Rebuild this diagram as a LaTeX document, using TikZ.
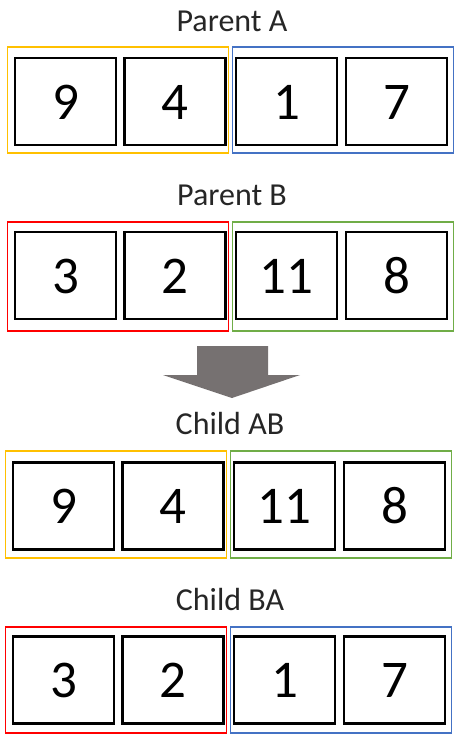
\documentclass[tikz,border=0pt]{standalone}
\usepackage{fontspec}
\setmainfont{Carlito}
\definecolor{ogold}{HTML}{FFC000}
\definecolor{oblue}{HTML}{4472C4}
\definecolor{ored}{HTML}{FF0000}
\definecolor{ogreen}{HTML}{70AD47}
\definecolor{arrowgray}{HTML}{767171}
\tikzset{
  cell/.style={draw=black, line width=2.6pt, minimum width=101pt, minimum height=87pt,
    inner sep=0pt, text height=35pt, text depth=0pt,
    font=\fontsize{53}{53}\selectfont},
  half/.style={draw=#1, line width=1.5pt, minimum width=221pt, inner sep=0pt},
  title/.style={anchor=base, inner sep=0pt, text=black!85, font=\fontsize{32}{32}\selectfont},
}
\begin{document}
\begin{tikzpicture}[x=1pt, y=-1pt]
\useasboundingbox (0,0) rectangle (455,734);

% one chromosome: #1 name, #2 x shift, #3 title baseline, #4 frame top, #5 frame bottom,
% #6 cell centre y, #7 title, #8 #9 left/right frame colours, then four genes
\newcommand{\chromrow}[9]{%
  \node[title] (#1t) at (232+#2,#3) {#7};
  \node[half=#8, minimum height=#5-#4] (#1l) at (118+#2,{(#4+#5)/2}) {};
  \node[half=#9, minimum height=#5-#4] (#1r) at (343+#2,{(#4+#5)/2}) {};
  \def\rowname{#1}\def\rowx{#2}\def\rowy{#6}%
  \genes}
\newcommand{\genes}[4]{%
  \node[cell] (\rowname1) at (65.5+\rowx,\rowy) {#1};
  \node[cell] (\rowname2) at (175+\rowx,\rowy) {#2};
  \node[cell] (\rowname3) at (286.5+\rowx,\rowy) {#3};
  \node[cell] (\rowname4) at (396.5+\rowx,\rowy) {#4};}

\chromrow{pa}{0}{31}{47}{153}{101.5}{Parent A}{ogold}{oblue}{9}{4}{1}{7}
\chromrow{pb}{0}{205}{222}{331}{275.5}{Parent B}{ored}{ogreen}{3}{2}{11}{8}

% block arrow between parents and children
\coordinate (tip) at (232,398);
\fill[arrowgray] (197,346) -- (268,346) -- (268,375) -- (300,375) -- (tip)
  -- (163,375) -- (197,375) -- cycle;

\chromrow{cab}{-2}{434}{451}{558}{506}{Child AB}{ogold}{ogreen}{9}{4}{11}{8}
\chromrow{cba}{-2}{610}{627}{733}{680}{Child BA}{ored}{oblue}{3}{2}{1}{7}
\end{tikzpicture}
\end{document}
